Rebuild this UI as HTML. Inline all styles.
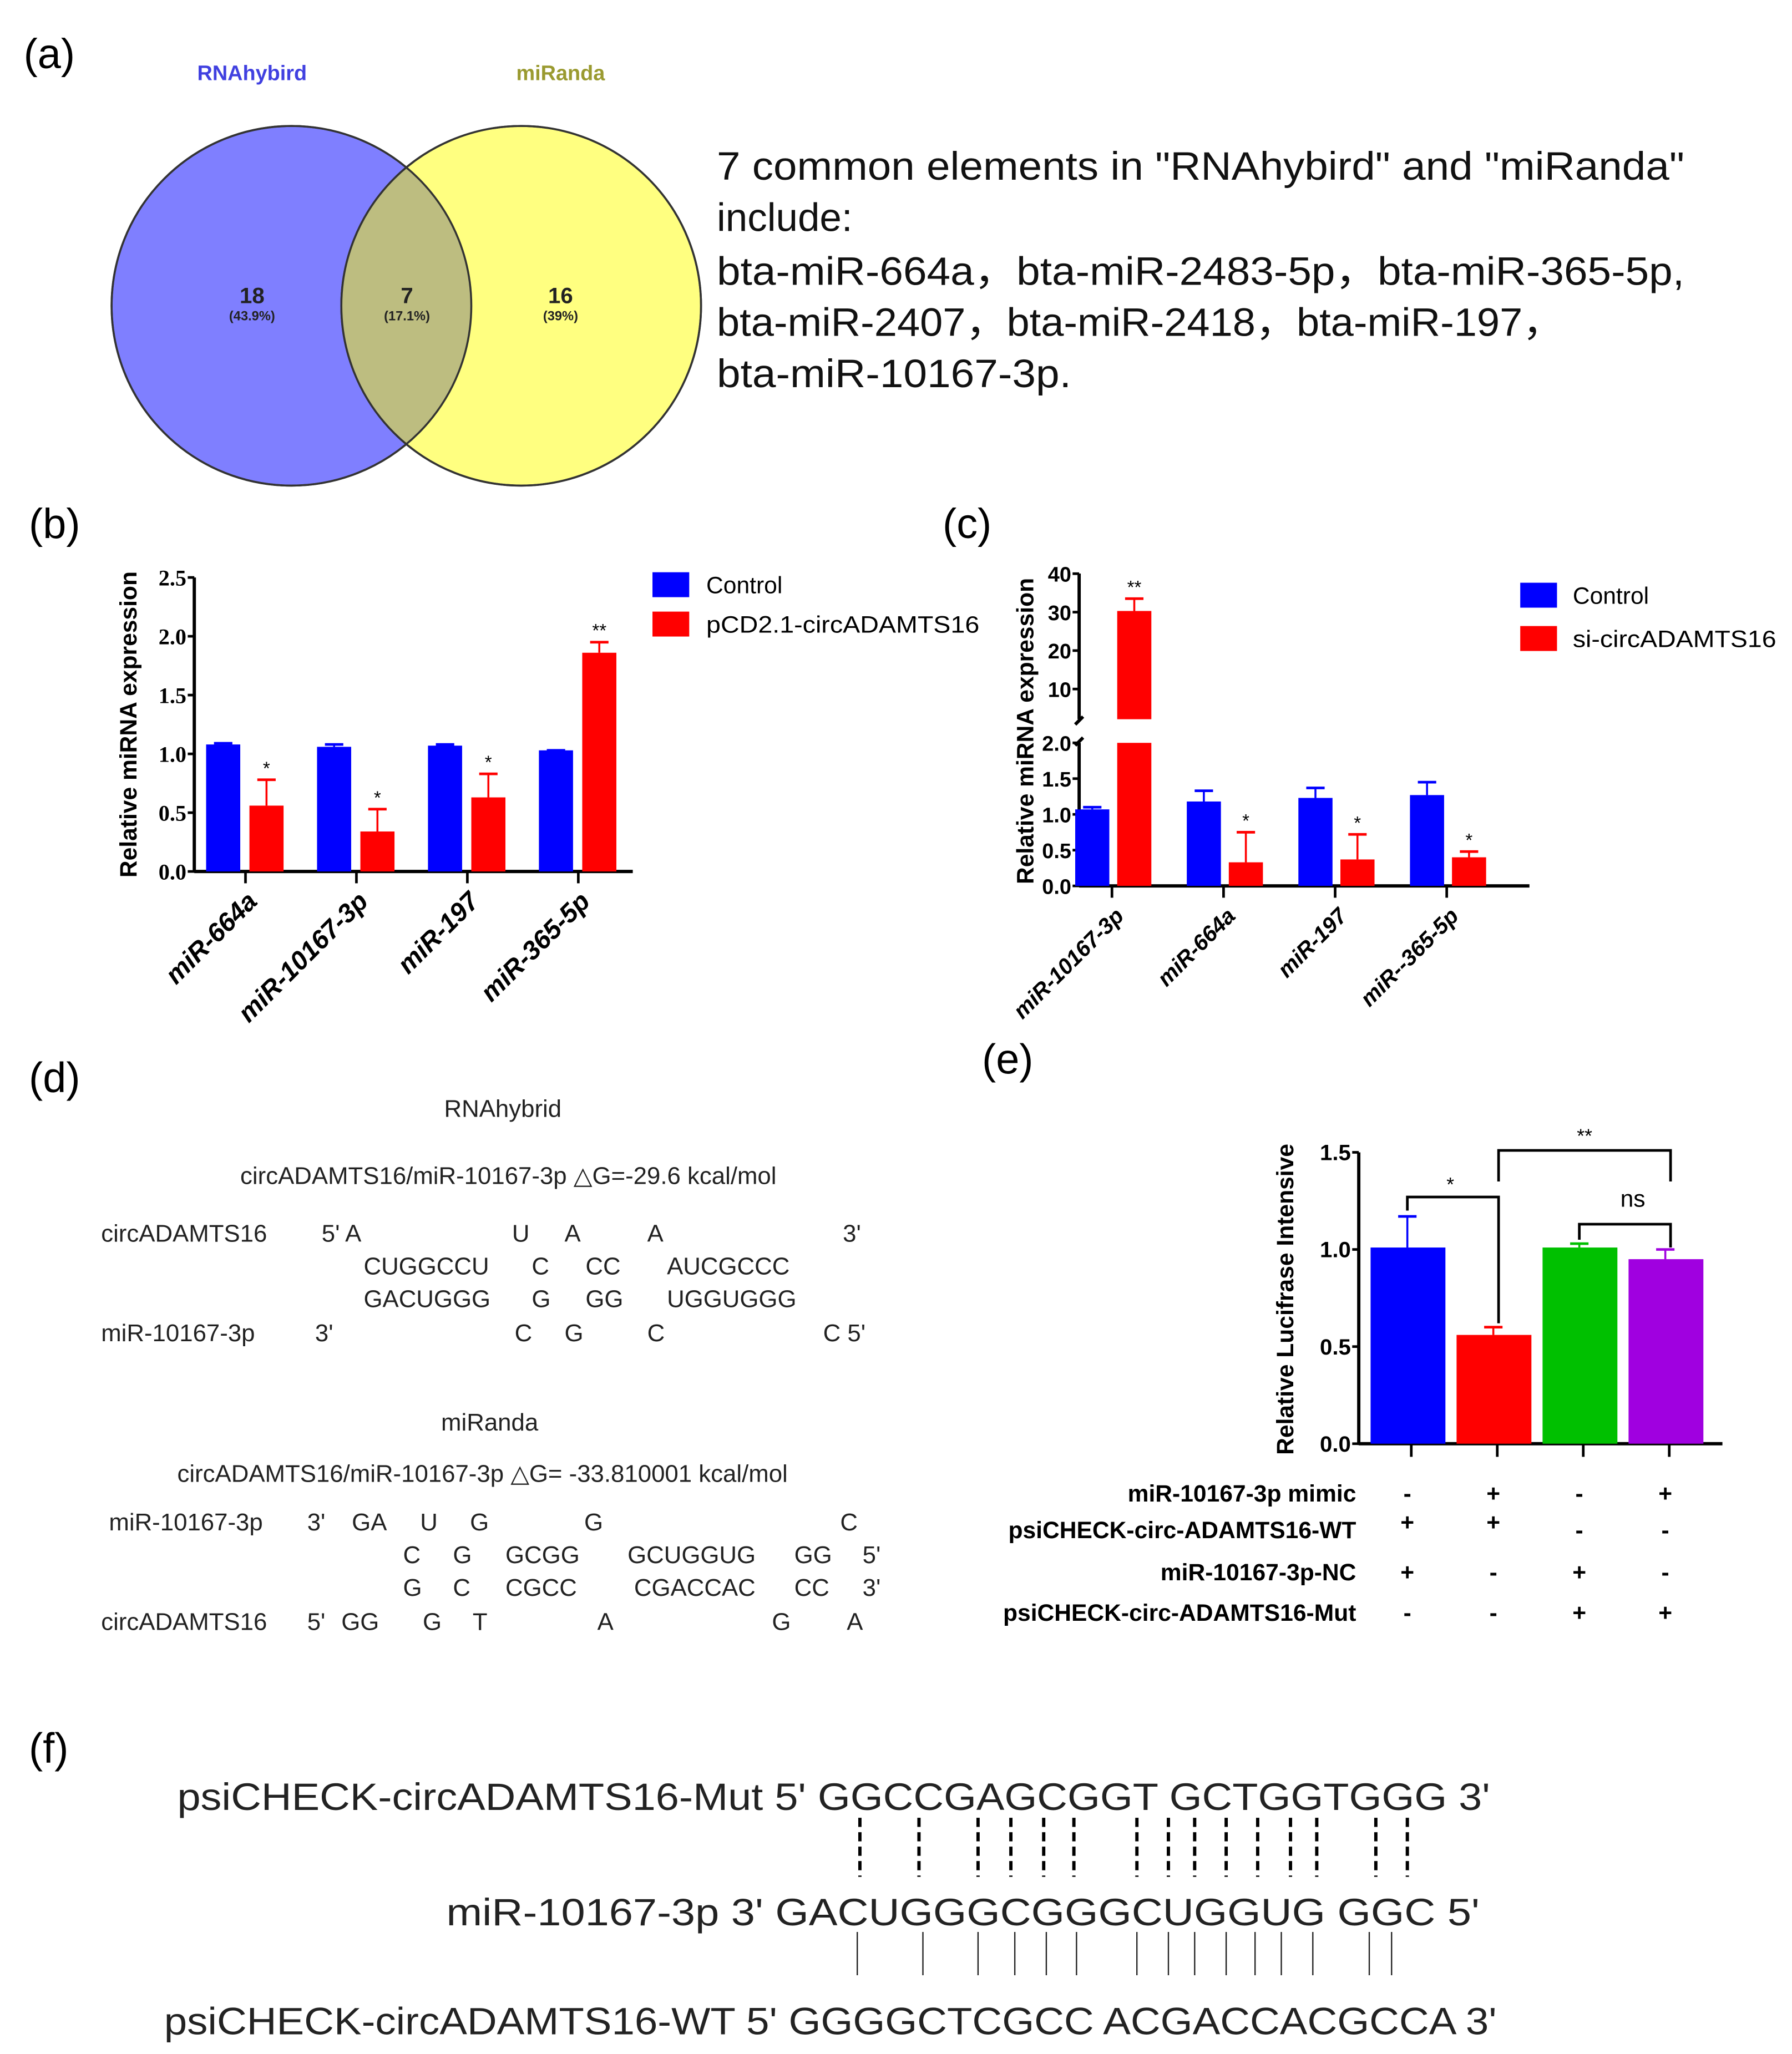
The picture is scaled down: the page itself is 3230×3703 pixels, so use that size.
<!DOCTYPE html>
<html><head><meta charset="utf-8"><style>
html,body{margin:0;padding:0;background:#fff;}
svg{display:block;font-family:"Liberation Sans",Arial,sans-serif;}
</style></head><body>
<svg id="fig" width="3230" height="3703" viewBox="0 0 1365 1565" preserveAspectRatio="none">
<g>
<text x="18" y="52" font-size="32">(a)</text>
<text x="192" y="61" font-size="16" font-weight="bold" fill="#4040e0" text-anchor="middle">RNAhybird</text>
<text x="427" y="61" font-size="16" font-weight="bold" fill="#9a9a30" text-anchor="middle">miRanda</text>
<circle cx="222" cy="233" r="137" fill="#7f7fff" stroke="#333" stroke-width="1.5"/>
<circle cx="397" cy="233" r="137" fill="#ffff80" stroke="#333" stroke-width="1.5"/>
<clipPath id="cl"><circle cx="222" cy="233" r="137"/></clipPath>
<circle cx="397" cy="233" r="137" fill="#bdbd80" clip-path="url(#cl)"/>
<circle cx="222" cy="233" r="137" fill="none" stroke="#333" stroke-width="1.5"/>
<circle cx="397" cy="233" r="137" fill="none" stroke="#333" stroke-width="1.5"/>
<g font-weight="bold" text-anchor="middle" fill="#222">
<text x="192" y="231" font-size="17">18</text>
<text x="192" y="244" font-size="10">(43.9%)</text>
<text x="310" y="231" font-size="17">7</text>
<text x="310" y="244" font-size="10">(17.1%)</text>
<text x="427" y="231" font-size="17">16</text>
<text x="427" y="244" font-size="10">(39%)</text>
</g>
<g font-size="30" fill="#111">
<text x="546" y="137" textLength="737" lengthAdjust="spacingAndGlyphs">7 common elements in "RNAhybird" and "miRanda"</text>
<text x="546" y="176">include:</text>
<text x="546" y="217" textLength="737" lengthAdjust="spacingAndGlyphs">bta-miR-664a，bta-miR-2483-5p，bta-miR-365-5p,</text>
<text x="546" y="256" textLength="645" lengthAdjust="spacingAndGlyphs">bta-miR-2407，bta-miR-2418，bta-miR-197，</text>
<text x="546" y="295" textLength="270" lengthAdjust="spacingAndGlyphs">bta-miR-10167-3p.</text>
</g>
</g>
<text x="22" y="410" font-size="32">(b)</text>
<text x="718" y="410" font-size="32">(c)</text>
<text x="22" y="832" font-size="32">(d)</text>
<text x="748" y="818" font-size="32">(e)</text>
<text x="22" y="1343" font-size="32">(f)</text>
<g id="chartB"></g>
<g id="chartC"></g>
<g id="chartE"></g>
<g font-size="18.5" fill="#222">
<text x="383" y="851" text-anchor="middle">RNAhybrid</text>
<text x="183" y="902">circADAMTS16/miR-10167-3p  △G=-29.6 kcal/mol</text>
<text x="77" y="946">circADAMTS16</text><text x="245" y="946">5' A</text><text x="390" y="946">U</text><text x="430" y="946">A</text><text x="493" y="946">A</text><text x="642" y="946">3'</text>
<text x="277" y="971">CUGGCCU</text><text x="405" y="971">C</text><text x="446" y="971">CC</text><text x="508" y="971">AUCGCCC</text>
<text x="277" y="996">GACUGGG</text><text x="405" y="996">G</text><text x="446" y="996">GG</text><text x="508" y="996">UGGUGGG</text>
<text x="77" y="1022">miR-10167-3p</text><text x="240" y="1022">3'</text><text x="392" y="1022">C</text><text x="430" y="1022">G</text><text x="493" y="1022">C</text><text x="627" y="1022">C 5'</text>
<text x="373" y="1090" text-anchor="middle">miRanda</text>
<text x="135" y="1129">circADAMTS16/miR-10167-3p △G= -33.810001 kcal/mol</text>
<text x="83" y="1166">miR-10167-3p</text><text x="234" y="1166">3'</text><text x="268" y="1166">GA</text><text x="320" y="1166">U</text><text x="358" y="1166">G</text><text x="445" y="1166">G</text><text x="640" y="1166">C</text>
<text x="307" y="1191">C</text><text x="345" y="1191">G</text><text x="385" y="1191">GCGG</text><text x="478" y="1191">GCUGGUG</text><text x="605" y="1191">GG</text><text x="657" y="1191">5'</text>
<text x="307" y="1216">G</text><text x="345" y="1216">C</text><text x="385" y="1216">CGCC</text><text x="483" y="1216">CGACCAC</text><text x="605" y="1216">CC</text><text x="657" y="1216">3'</text>
<text x="77" y="1242">circADAMTS16</text><text x="234" y="1242">5'</text><text x="260" y="1242">GG</text><text x="322" y="1242">G</text><text x="360" y="1242">T</text><text x="455" y="1242">A</text><text x="588" y="1242">G</text><text x="645" y="1242">A</text>
</g>
<g font-size="29" fill="#222">
<text x="135" y="1379" textLength="1000" lengthAdjust="spacingAndGlyphs">psiCHECK-circADAMTS16-Mut 5'  GGCCGAGCGGT GCTGGTGGG   3'</text>
<text x="340" y="1467" textLength="787" lengthAdjust="spacingAndGlyphs">miR-10167-3p   3' GACUGGGCGGGCUGGUG GGC 5'</text>
<text x="125" y="1550" textLength="1015" lengthAdjust="spacingAndGlyphs">psiCHECK-circADAMTS16-WT 5' GGGGCTCGCC ACGACCACGCCA  3'</text>
</g>
<g id="pairs"></g>
</svg>
<script>
const NS="http://www.w3.org/2000/svg";
function el(p,t,a,txt){const e=document.createElementNS(NS,t);for(const k in a)e.setAttribute(k,a[k]);if(txt!==undefined)e.textContent=txt;p.appendChild(e);return e;}

const bCats=["miR-664a","miR-10167-3p","miR-197","miR-365-5p"];
const bCtrl=[1.08,1.06,1.07,1.03];
const bCtrlErr=[0.01,0.02,0.01,0.0];
const bTreat=[0.56,0.34,0.63,1.86];
const bTreatErr=[0.22,0.19,0.20,0.09];
const bSig=["*","*","*","**"];
const bTicks=[0,0.5,1.0,1.5,2.0,2.5];

const cCats=["miR-10167-3p","miR-664a","miR-197","miR--365-5p"];
const cCtrl=[1.07,1.18,1.23,1.27];
const cCtrlErr=[0.03,0.15,0.14,0.18];
const cTreat=[30.3,0.33,0.37,0.40];
const cTreatErr=[3.2,0.42,0.35,0.08];
const cSig=["**","*","*","*"];
const cTicksLow=[0,0.5,1.0,1.5,2.0];
const cTicksHigh=[10,20,30,40];

const eVals=[1.01,0.56,1.01,0.95];
const eErr=[0.16,0.04,0.02,0.05];
const eTicks=[0,0.5,1.0,1.5];
const eRowLabels=["miR-10167-3p mimic","psiCHECK-circ-ADAMTS16-WT","miR-10167-3p-NC","psiCHECK-circ-ADAMTS16-Mut"];
const eRows=[["-","+","-","+"],["+","+","-","-"],["+","-","+","-"],["-","-","+","+"]];

function errBar(g,x,y0,y1,col){
  el(g,"line",{x1:x,x2:x,y1:y0,y2:y1,stroke:col,"stroke-width":1.5});
  el(g,"line",{x1:x-7,x2:x+7,y1:y1,y2:y1,stroke:col,"stroke-width":2});
}

(function(){
  const g=document.getElementById("chartB");
  const X0=148,Y0=664,Y1=440,XE=482;
  const y=v=>Y0-(v/2.5)*(Y0-Y1);
  const xc=i=>187+i*84.5;
  el(g,"line",{x1:X0,x2:X0,y1:Y1,y2:Y0+1,stroke:"#000","stroke-width":2.5});
  el(g,"line",{x1:X0,x2:XE,y1:Y0,y2:Y0,stroke:"#000","stroke-width":2.5});
  bTicks.forEach(t=>{
    el(g,"line",{x1:X0-5,x2:X0,y1:y(t),y2:y(t),stroke:"#000","stroke-width":2});
    const l=el(g,"text",{x:X0-6,y:y(t)+6,"font-size":17,"font-weight":"bold","font-family":"Liberation Serif,serif","text-anchor":"end"},t.toFixed(1));
    
    
  });
  const yt=el(g,"text",{transform:"translate(104,552) rotate(-90)","font-size":18,"font-weight":"bold","text-anchor":"middle"},"Relative miRNA expression");
  
  
  bCats.forEach((c,i)=>{
    const cx=xc(i);
    el(g,"line",{x1:cx,x2:cx,y1:Y0,y2:Y0+9,stroke:"#000","stroke-width":2});
    const b1=el(g,"rect",{x:cx-30,y:y(bCtrl[i]),width:26,height:Y0-y(bCtrl[i]),fill:"#0000ff"});
    
    
    errBar(g,cx-17,y(bCtrl[i]),y(bCtrl[i]+bCtrlErr[i]),"#0000ff");
    const b2=el(g,"rect",{x:cx+3,y:y(bTreat[i]),width:26,height:Y0-y(bTreat[i]),fill:"#ff0000"});
    
    
    errBar(g,cx+16,y(bTreat[i]),y(bTreat[i]+bTreatErr[i]),"#ff0000");
    el(g,"text",{x:cx+16,y:y(bTreat[i]+bTreatErr[i])-4,"font-size":14,"text-anchor":"middle"},bSig[i]);
    const xl=el(g,"text",{transform:`translate(${cx+10},${Y0+24}) rotate(-45)`,"font-size":20,"font-weight":"bold","font-style":"italic","text-anchor":"end"},c);
    
    
  });
  const l1=el(g,"rect",{x:497,y:436,width:28,height:19,fill:"#0000ff"});
  
  
  el(g,"text",{x:538,y:452,"font-size":18},"Control");
  const l2=el(g,"rect",{x:497,y:466,width:28,height:19,fill:"#ff0000"});
  
  
  el(g,"text",{x:538,y:482,"font-size":18,"textLength":208,"lengthAdjust":"spacingAndGlyphs"},"pCD2.1-circADAMTS16");
})();

(function(){
  const g=document.getElementById("chartC");
  const X0=822,Y0=675,Y2=566,XE=1165;
  const yl=v=>Y0-v*(Y0-Y2)/2;
  const yh=v=>525-(v-10)*2.93;
  const xc=i=>847+i*85;
  el(g,"line",{x1:X0,x2:X0,y1:Y2,y2:Y0+1,stroke:"#000","stroke-width":2.5});
  el(g,"line",{x1:X0,x2:X0,y1:437,y2:548,stroke:"#000","stroke-width":2.5});
  el(g,"line",{x1:X0-3,x2:X0+3,y1:552,y2:546,stroke:"#000","stroke-width":2.5});
  el(g,"line",{x1:X0-3,x2:X0+3,y1:568,y2:562,stroke:"#000","stroke-width":2.5});
  el(g,"line",{x1:X0,x2:XE,y1:Y0,y2:Y0,stroke:"#000","stroke-width":2.5});
  cTicksLow.forEach(t=>{
    el(g,"line",{x1:X0-5,x2:X0,y1:yl(t),y2:yl(t),stroke:"#000","stroke-width":2});
    const l=el(g,"text",{x:X0-6,y:yl(t)+6,"font-size":16,"font-weight":"bold","text-anchor":"end"},t.toFixed(1));
    
    
  });
  cTicksHigh.forEach(t=>{
    el(g,"line",{x1:X0-5,x2:X0,y1:yh(t),y2:yh(t),stroke:"#000","stroke-width":2});
    const l=el(g,"text",{x:X0-6,y:yh(t)+6,"font-size":16,"font-weight":"bold","text-anchor":"end"},String(t));
    
    
  });
  const yt=el(g,"text",{transform:"translate(787,557) rotate(-90)","font-size":18,"font-weight":"bold","text-anchor":"middle"},"Relative miRNA expression");
  
  
  const yv=v=>v>2?yh(v):yl(v);
  cCats.forEach((c,i)=>{
    const cx=xc(i);
    el(g,"line",{x1:cx,x2:cx,y1:Y0,y2:Y0+9,stroke:"#000","stroke-width":2});
    const b1=el(g,"rect",{x:cx-28,y:yl(cCtrl[i]),width:26,height:Y0-yl(cCtrl[i]),fill:"#0000ff"});
    
    
    errBar(g,cx-15,yl(cCtrl[i]),yl(cCtrl[i]+cCtrlErr[i]),"#0000ff");
    const v=cTreat[i];
    if(v>2){
      const b2=el(g,"rect",{x:cx+4,y:Y2,width:26,height:Y0-Y2,fill:"#ff0000"});
      
      
      const b3=el(g,"rect",{x:cx+4,y:yh(v),width:26,height:548-yh(v),fill:"#ff0000"});
      
      
    } else {
      const b2=el(g,"rect",{x:cx+4,y:yl(v),width:26,height:Y0-yl(v),fill:"#ff0000"});
      
      
    }
    const top=yv(v+cTreatErr[i]);
    errBar(g,cx+17,yv(v),top,"#ff0000");
    el(g,"text",{x:cx+17,y:top-4,"font-size":14,"text-anchor":"middle"},cSig[i]);
    const xl=el(g,"text",{transform:`translate(${cx+10},${Y0+24}) rotate(-45)`,"font-size":17,"font-weight":"bold","font-style":"italic","text-anchor":"end"},c);
    
    
  });
  const l1=el(g,"rect",{x:1158,y:444,width:28,height:19,fill:"#0000ff"});
  
  
  el(g,"text",{x:1198,y:460,"font-size":18},"Control");
  const l2=el(g,"rect",{x:1158,y:477,width:28,height:19,fill:"#ff0000"});
  
  
  el(g,"text",{x:1198,y:493,"font-size":18,"textLength":155,"lengthAdjust":"spacingAndGlyphs"},"si-circADAMTS16");
})();

(function(){
  const g=document.getElementById("chartE");
  const X0=1035,Y0=1100,Y1=878,XE=1312;
  const y=v=>Y0-(v/1.5)*(Y0-Y1);
  const xc=i=>1072+i*65.5;
  const cols=["#0000ff","#ff0000","#00c000","#a000e0"];
  el(g,"line",{x1:X0,x2:X0,y1:Y1,y2:Y0+1,stroke:"#000","stroke-width":2.5});
  el(g,"line",{x1:X0,x2:XE,y1:Y0,y2:Y0,stroke:"#000","stroke-width":2.5});
  eTicks.forEach(t=>{
    el(g,"line",{x1:X0-5,x2:X0,y1:y(t),y2:y(t),stroke:"#000","stroke-width":2});
    const l=el(g,"text",{x:X0-6,y:y(t)+6,"font-size":17,"font-weight":"bold","text-anchor":"end"},t.toFixed(1));
    
    
  });
  const yt=el(g,"text",{transform:"translate(985,990) rotate(-90)","font-size":18,"font-weight":"bold","text-anchor":"middle"},"Relative Lucifrase Intensive");
  
  
  eVals.forEach((v,i)=>{
    const cx=xc(i);
    el(g,"line",{x1:cx+3,x2:cx+3,y1:Y0,y2:Y0+10,stroke:"#000","stroke-width":2});
    const b=el(g,"rect",{x:cx-28,y:y(v),width:57,height:Y0-y(v),fill:cols[i]});
    
    
    errBar(g,cx,y(v),y(v+eErr[i]),cols[i]);
  });
  const br=(x1,x2,yt2,ya,yb)=>el(g,"path",{d:`M${x1},${ya} V${yt2} H${x2} V${yb}`,fill:"none",stroke:"#000","stroke-width":2});
  br(xc(0),xc(1)+4,y(1.27),y(1.2),y(0.62));
  el(g,"text",{x:(xc(0)+xc(1))/2,y:y(1.3),"font-size":15,"text-anchor":"middle"},"*");
  br(xc(1)+4,xc(3)+4,y(1.51),y(1.35),y(1.35));
  el(g,"text",{x:xc(2)+4,y:y(1.55),"font-size":15,"text-anchor":"middle"},"**");
  br(xc(2),xc(3)+4,y(1.13),y(1.05),y(1.01));
  el(g,"text",{x:(xc(2)+xc(3))/2+8,y:y(1.22),"font-size":18,"text-anchor":"middle"},"ns");
  eRowLabels.forEach((lab,r)=>{
    const yy=[1144,1172,1204,1235][r];
    const t=el(g,"text",{x:1033,y:yy,"font-size":18,"font-weight":"bold","text-anchor":"end"},lab);
    
    
    eRows[r].forEach((s,i)=>{
      el(g,"text",{x:xc(i),y:yy-(s==="+"&&r===1?6:0),"font-size":18,"font-weight":"bold","text-anchor":"middle"},s);
    });
  });
})();

(function(){
  const g=document.getElementById("pairs");
  const dashX=[655,700,745,770,795,818,866,890,910,934,958,983,1003,1048,1072];
  const solidX=[653,703,745,773,797,820,866,890,910,934,956,976,1000,1043,1060];
  dashX.forEach(x=>el(g,"line",{x1:x,x2:x,y1:1385,y2:1430,stroke:"#000","stroke-width":2.5,"stroke-dasharray":"7,4"}));
  solidX.forEach(x=>el(g,"line",{x1:x,x2:x,y1:1472,y2:1505,stroke:"#222","stroke-width":1}));
})();
</script>
</body></html>
